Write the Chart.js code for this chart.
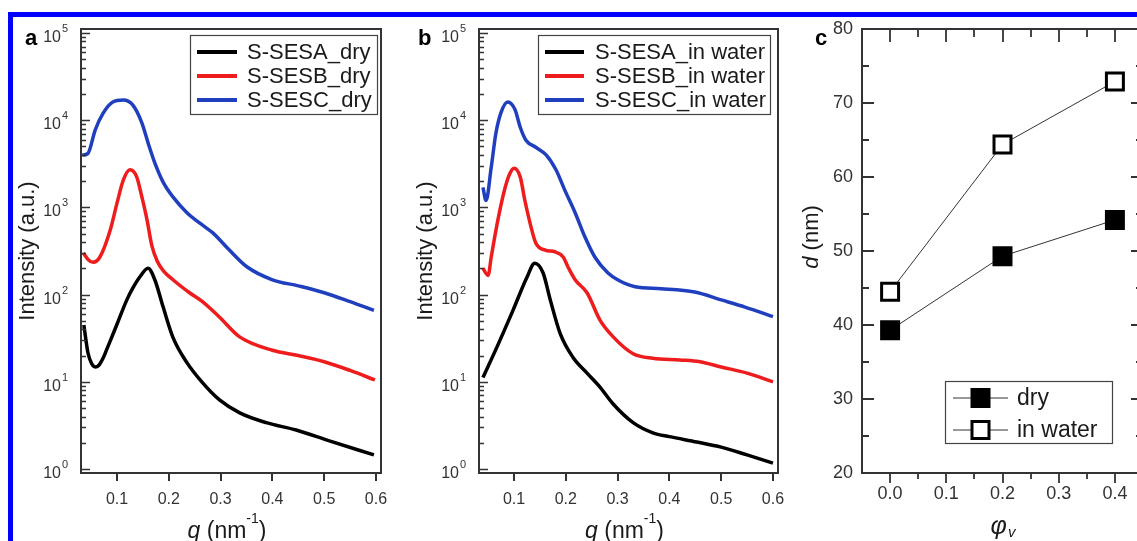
<!DOCTYPE html>
<html lang="en">
<head>
<meta charset="UTF-8">
<title>SAXS profiles and domain spacing</title>
<script src="https://cdn.jsdelivr.net/npm/chart.js"></script>
<style>
  body { margin: 0; background: #fff; overflow: hidden; }
  #page { position: relative; width: 1137px; height: 541px; overflow: hidden; background: #fff; }
  .frame-top { position: absolute; left: 8px; top: 12px; right: 0; height: 5px; background: #0000ff; }
  .frame-left { position: absolute; left: 8px; top: 12px; width: 5px; bottom: 0; background: #0000ff; }
  canvas { position: absolute; left: 0; top: 0; }
</style>
</head>
<body>
<div id="page">
  <div class="frame-top"></div>
  <div class="frame-left"></div>
  <canvas id="panelA" width="1137" height="541"></canvas>
  <canvas id="panelB" width="1137" height="541"></canvas>
  <canvas id="panelC" width="1160" height="541"></canvas>
</div>
<script>
  // ---- panel a: dry films (q in nm^-1, intensity in a.u.) ----
  const qSesaDry = [0.036, 0.044, 0.051, 0.058, 0.065, 0.073, 0.080, 0.087, 0.100, 0.119, 0.131, 0.144, 0.160, 0.173, 0.189, 0.208, 0.235, 0.265, 0.298, 0.337, 0.388, 0.446, 0.510, 0.596];
  const iSesaDry = [44.7, 21.4, 16.2, 14.8, 15.5, 18.6, 23.4, 29.5, 45.7, 87, 120, 159, 200, 148, 72.4, 32.4, 16.6, 9.8, 6.2, 4.4, 3.4, 2.8, 2.1, 1.45];

  const qSesbDry = [0.035, 0.045, 0.054, 0.067, 0.087, 0.100, 0.112, 0.125, 0.138, 0.148, 0.158, 0.167, 0.178, 0.190, 0.208, 0.240, 0.265, 0.298, 0.336, 0.400, 0.450, 0.500, 0.550, 0.598];
  const iSesbDry = [300, 250, 235, 270, 550, 1120, 2040, 2700, 2240, 1320, 720, 370, 240, 186, 148, 105, 83, 55, 33, 23, 20, 17, 13.5, 10.5];

  const qSescDry = [0.033, 0.044, 0.058, 0.073, 0.092, 0.112, 0.131, 0.148, 0.160, 0.173, 0.189, 0.208, 0.235, 0.260, 0.285, 0.317, 0.350, 0.400, 0.450, 0.500, 0.550, 0.596];
  const iSescDry = [3980, 4170, 7760, 12000, 16200, 17000, 14800, 9330, 5500, 3240, 1950, 1320, 870, 660, 510, 324, 210, 148, 126, 105, 83, 66];

  // ---- panel b: in water ----
  const qSesaWet = [0.040, 0.067, 0.098, 0.125, 0.140, 0.156, 0.170, 0.189, 0.214, 0.241, 0.266, 0.291, 0.330, 0.368, 0.400, 0.453, 0.500, 0.550, 0.600];
  const iSesaWet = [11.2, 25, 66, 158, 229, 178, 87, 36, 19, 12.6, 8.7, 5.6, 3.4, 2.6, 2.35, 2.04, 1.78, 1.45, 1.17];

  const qSesbWet = [0.040, 0.050, 0.056, 0.069, 0.083, 0.092, 0.100, 0.112, 0.121, 0.131, 0.142, 0.160, 0.179, 0.195, 0.204, 0.218, 0.241, 0.266, 0.291, 0.330, 0.368, 0.420, 0.459, 0.500, 0.550, 0.600];
  const iSesbWet = [200, 166, 270, 724, 1700, 2450, 2820, 2240, 1200, 660, 390, 324, 310, 270, 209, 148, 105, 51, 33, 21, 18.6, 17.8, 17, 14.8, 12.6, 10];

  const qSescWet = [0.040, 0.046, 0.056, 0.065, 0.075, 0.088, 0.102, 0.112, 0.123, 0.142, 0.162, 0.181, 0.198, 0.218, 0.237, 0.256, 0.281, 0.300, 0.334, 0.384, 0.449, 0.500, 0.546, 0.600];
  const iSescWet = [1700, 1200, 2880, 7080, 12300, 16200, 13200, 8300, 5900, 4900, 4000, 2700, 1580, 870, 457, 270, 178, 148, 123, 117, 107, 87, 72, 56];

  // ---- panel c: domain spacing vs volume fraction ----
  const phiV = [0.0, 0.2, 0.4];
  const dDry = [39.3, 49.3, 54.2];
  const dWater = [44.5, 64.4, 72.9];

  // tick values
  const qTicks = [0.1, 0.2, 0.3, 0.4, 0.5, 0.6];
  const logExponents = [0, 1, 2, 3, 4, 5];
  const phiTicks = [0.0, 0.1, 0.2, 0.3, 0.4];
  const phiMinorTicks = [0.05, 0.15, 0.25, 0.35];
  const dTicks = [20, 30, 40, 50, 60, 70, 80];
  const dMinorTicks = [25, 35, 45, 55, 65, 75];

  const FONT = "'Liberation Sans', Arial, sans-serif";
  const AXIS = '#333';
  const TEXT = '#1a1a1a';
  const BLACK = '#000000', RED = '#ee1c1c', BLUE = '#1f3fbf';
  const X_BOX = 45, Y_BOX = 55;   // room given to the axis boxes
  const NO_GRID = { display: false, drawTicks: false };

  Chart.defaults.font.family = FONT;
  Chart.defaults.animation = false;

  const pts = (xs, ys) => xs.map((x, i) => ({ x: x, y: ys[i] }));

  function curve(label, color, xs, ys) {
    return {
      label: label, data: pts(xs, ys), borderColor: color, backgroundColor: color,
      borderWidth: 3.5, pointRadius: 0, tension: 0.4, cubicInterpolationMode: 'monotone'
    };
  }

  // draws "10" with a superscript exponent
  function drawPow(ctx, x, y, e) {
    ctx.fillStyle = AXIS;
    ctx.font = `16px ${FONT}`;
    ctx.textAlign = 'right';
    ctx.textBaseline = 'alphabetic';
    ctx.fillText('10', x, y + 9);
    ctx.font = `11px ${FONT}`;
    ctx.textAlign = 'left';
    ctx.fillText(String(e), x + 1, y - 1);
  }

  const logPanelDeco = {
    id: 'logPanelDeco',
    afterDraw(chart, args, o) {
      const ctx = chart.ctx, a = chart.chartArea;
      const xs = chart.scales.x, ys = chart.scales.y;
      ctx.save();

      // box
      ctx.strokeStyle = AXIS;
      ctx.lineWidth = 2;
      ctx.strokeRect(a.left, a.top, a.right - a.left, a.bottom - a.top);

      // bottom ticks (outward)
      ctx.beginPath();
      qTicks.forEach(v => {
        const px = Math.round(xs.getPixelForValue(v));
        ctx.moveTo(px, a.bottom);
        ctx.lineTo(px, a.bottom + 8);
      });
      ctx.stroke();

      // log ticks on the left (inward)
      ctx.lineWidth = 1.5;
      ctx.beginPath();
      logExponents.forEach(e => {
        for (let k = 1; k <= 9; k++) {
          const v = k * Math.pow(10, e);
          if (v > ys.max) break;
          const py = Math.round(ys.getPixelForValue(v)) + 0.5;
          ctx.moveTo(a.left, py);
          ctx.lineTo(a.left + (k === 1 ? 9 : 5), py);
        }
      });
      ctx.stroke();

      logExponents.forEach(e => drawPow(ctx, a.left - 20, ys.getPixelForValue(Math.pow(10, e)), e));

      // x title: q (nm^-1)
      ctx.fillStyle = TEXT;
      ctx.textAlign = 'left';
      ctx.textBaseline = 'alphabetic';
      const big = `23px ${FONT}`, ital = `italic 23px ${FONT}`, small = `14px ${FONT}`;
      ctx.font = ital; const w1 = ctx.measureText('q').width;
      ctx.font = big; const w2 = ctx.measureText(' (nm').width;
      ctx.font = small; const w3 = ctx.measureText('-1').width;
      ctx.font = big; const w4 = ctx.measureText(')').width;
      let tx = (a.left + a.right) / 2 - 4 - (w1 + w2 + w3 + w4) / 2;
      const by = 538;
      ctx.font = ital; ctx.fillText('q', tx, by); tx += w1;
      ctx.font = big; ctx.fillText(' (nm', tx, by); tx += w2;
      ctx.font = small; ctx.fillText('-1', tx, by - 15); tx += w3;
      ctx.font = big; ctx.fillText(')', tx, by);

      // y title
      ctx.save();
      ctx.translate(a.left - 47, (a.top + a.bottom) / 2);
      ctx.rotate(-Math.PI / 2);
      ctx.textAlign = 'center';
      ctx.font = `22px ${FONT}`;
      ctx.fillText('Intensity (a.u.)', 0, 0);
      ctx.restore();

      // legend
      const L = o.legend;
      ctx.strokeStyle = '#444';
      ctx.lineWidth = 1.2;
      ctx.strokeRect(L.left + 0.5, L.top + 0.5, L.right - L.left, L.bottom - L.top);
      chart.data.datasets.forEach((ds, i) => {
        const ry = L.top + 17 + i * 24;
        ctx.strokeStyle = ds.borderColor;
        ctx.lineWidth = 4;
        ctx.beginPath();
        ctx.moveTo(L.lineFrom, ry);
        ctx.lineTo(L.lineTo, ry);
        ctx.stroke();
        ctx.fillStyle = TEXT;
        ctx.font = `22px ${FONT}`;
        ctx.textAlign = 'left';
        ctx.textBaseline = 'middle';
        ctx.fillText(ds.label, L.textX, ry + 1);
      });

      // panel letter
      ctx.font = `bold 22px ${FONT}`;
      ctx.textBaseline = 'alphabetic';
      ctx.fillStyle = BLACK;
      ctx.fillText(o.letter, o.letterX, 45);
      ctx.restore();
    }
  };

  function logPanel(canvasId, area, xMin, datasets, legend, letter, letterX) {
    const cv = document.getElementById(canvasId);
    return new Chart(cv, {
      type: 'line',
      data: { datasets: datasets },
      options: {
        responsive: false,
        events: [],
        layout: { padding: { left: area.left - Y_BOX, top: area.top, right: cv.width - area.right, bottom: cv.height - area.bottom - X_BOX } },
        plugins: { legend: { display: false }, tooltip: { enabled: false }, logPanelDeco: { legend: legend, letter: letter, letterX: letterX } },
        scales: {
          x: {
            type: 'linear', min: xMin, max: 0.6097,
            grid: NO_GRID, border: { display: false },
            afterBuildTicks: s => { s.ticks = qTicks.map(v => ({ value: v })); },
            afterFit: s => { s.height = X_BOX; },
            ticks: { autoSkip: false, maxRotation: 0, padding: 17, color: AXIS, font: { size: 16 }, callback: v => v.toFixed(1) }
          },
          y: {
            type: 'logarithmic', min: 0.9, max: 111200,
            grid: NO_GRID, border: { display: false },
            afterBuildTicks: s => { s.ticks = logExponents.map(e => ({ value: Math.pow(10, e) })); },
            afterFit: s => { s.width = Y_BOX; },
            ticks: { display: false }
          }
        }
      },
      plugins: [logPanelDeco]
    });
  }

  logPanel('panelA', { left: 81, top: 29, right: 381, bottom: 473 }, 0.0305, [
    curve('S-SESA_dry', BLACK, qSesaDry, iSesaDry),
    curve('S-SESB_dry', RED, qSesbDry, iSesbDry),
    curve('S-SESC_dry', BLUE, qSescDry, iSescDry)
  ], { left: 190, top: 35, right: 377, bottom: 114, lineFrom: 197, lineTo: 237, textX: 247 }, 'a', 25);

  logPanel('panelB', { left: 479, top: 29, right: 778, bottom: 473 }, 0.0324, [
    curve('S-SESA_in water', BLACK, qSesaWet, iSesaWet),
    curve('S-SESB_in water', RED, qSesbWet, iSesbWet),
    curve('S-SESC_in water', BLUE, qSescWet, iSescWet)
  ], { left: 538, top: 35, right: 770, bottom: 114, lineFrom: 545, lineTo: 584, textX: 595 }, 'b', 418);

  // ---- panel c ----
  const spacingDeco = {
    id: 'spacingDeco',
    afterDraw(chart) {
      const ctx = chart.ctx, a = chart.chartArea;
      const xs = chart.scales.x, ys = chart.scales.y;
      ctx.save();
      ctx.strokeStyle = AXIS;
      ctx.lineWidth = 2;
      ctx.strokeRect(a.left, a.top, a.right - a.left, a.bottom - a.top);

      ctx.lineWidth = 1.8;
      ctx.beginPath();
      const xt = (vals, len, lenTop) => vals.forEach(v => {
        const px = Math.round(xs.getPixelForValue(v));
        ctx.moveTo(px, a.bottom); ctx.lineTo(px, a.bottom + len);
        ctx.moveTo(px, a.top); ctx.lineTo(px, a.top + lenTop);
      });
      xt(phiTicks, 10, 13);
      xt(phiMinorTicks, 6, 8);
      const yt = (vals, len) => vals.forEach(v => {
        const py = Math.round(ys.getPixelForValue(v));
        ctx.moveTo(a.left, py); ctx.lineTo(a.left + len, py);
        ctx.moveTo(a.right, py); ctx.lineTo(a.right - len, py);
      });
      yt(dTicks, 12);
      yt(dMinorTicks, 7);
      ctx.stroke();

      // x title: phi_v
      ctx.fillStyle = TEXT;
      ctx.textBaseline = 'alphabetic';
      ctx.textAlign = 'left';
      ctx.font = `italic 25px ${FONT}`;
      const wPhi = ctx.measureText('φ').width;
      ctx.font = `italic 15px ${FONT}`;
      const wV = ctx.measureText('v').width;
      let tx = (a.left + a.right) / 2 - (wPhi + wV) / 2;
      ctx.font = `italic 25px ${FONT}`;
      ctx.fillText('φ', tx, 534);
      ctx.font = `italic 15px ${FONT}`;
      ctx.fillText('v', tx + wPhi + 1, 537);

      // y title: d (nm)
      ctx.save();
      ctx.translate(818, 237);
      ctx.rotate(-Math.PI / 2);
      ctx.font = `italic 22px ${FONT}`;
      const wd = ctx.measureText('d').width;
      ctx.font = `22px ${FONT}`;
      const wn = ctx.measureText(' (nm)').width;
      ctx.font = `italic 22px ${FONT}`;
      ctx.fillText('d', -(wd + wn) / 2, 0);
      ctx.font = `22px ${FONT}`;
      ctx.fillText(' (nm)', -(wd + wn) / 2 + wd, 0);
      ctx.restore();

      // legend
      ctx.strokeStyle = '#444';
      ctx.lineWidth = 1.2;
      ctx.strokeRect(945.5, 381.5, 167, 62);
      chart.data.datasets.forEach((ds, i) => {
        const ry = 398 + i * 32;
        ctx.strokeStyle = ds.borderColor;
        ctx.lineWidth = 1;
        ctx.beginPath();
        ctx.moveTo(953, ry); ctx.lineTo(1008, ry);
        ctx.stroke();
        ctx.fillStyle = ds.pointBackgroundColor;
        ctx.strokeStyle = ds.pointBorderColor;
        ctx.lineWidth = 3;
        ctx.fillRect(972, ry - 8.5, 17, 17);
        ctx.strokeRect(972, ry - 8.5, 17, 17);
        ctx.fillStyle = TEXT;
        ctx.font = `23px ${FONT}`;
        ctx.textBaseline = 'middle';
        ctx.fillText(ds.label, 1017, ry + 1);
      });

      ctx.font = `bold 22px ${FONT}`;
      ctx.textBaseline = 'alphabetic';
      ctx.fillStyle = BLACK;
      ctx.fillText('c', 815, 45);
      ctx.restore();
    }
  };

  function spacingSeries(label, ys, fill) {
    return {
      label: label, data: pts(phiV, ys),
      borderColor: '#333', borderWidth: 1,
      pointStyle: 'rect', pointRadius: 12, pointBorderWidth: 3,
      pointBackgroundColor: fill, pointBorderColor: BLACK
    };
  }

  const cvC = document.getElementById('panelC');
  new Chart(cvC, {
    type: 'line',
    data: { datasets: [spacingSeries('dry', dDry, BLACK), spacingSeries('in water', dWater, '#ffffff')] },
    options: {
      responsive: false,
      events: [],
      layout: { padding: { left: 862 - Y_BOX, top: 29, right: cvC.width - 1143, bottom: cvC.height - 473 - X_BOX } },
      plugins: { legend: { display: false }, tooltip: { enabled: false } },
      scales: {
        x: {
          type: 'linear', min: -0.05, max: 0.45,
          grid: NO_GRID, border: { display: false },
          afterBuildTicks: s => { s.ticks = phiTicks.map(v => ({ value: v })); },
          afterFit: s => { s.height = X_BOX; },
          ticks: { autoSkip: false, maxRotation: 0, padding: 10, color: AXIS, font: { size: 18 }, callback: v => v.toFixed(1) }
        },
        y: {
          type: 'linear', min: 20, max: 80,
          grid: NO_GRID, border: { display: false },
          afterBuildTicks: s => { s.ticks = dTicks.map(v => ({ value: v })); },
          afterFit: s => { s.width = Y_BOX; },
          ticks: { padding: 9, color: AXIS, font: { size: 18 }, callback: v => String(v) }
        }
      }
    },
    plugins: [spacingDeco]
  });
</script>
</body>
</html>
